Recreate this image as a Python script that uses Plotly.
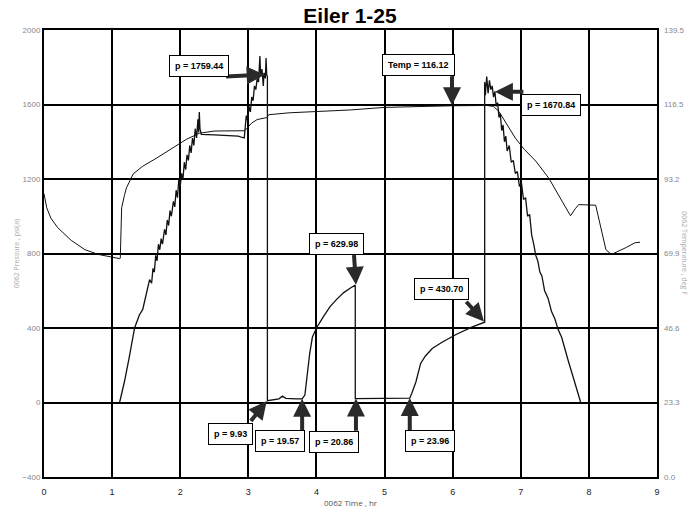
import plotly.graph_objects as go

# pressure trace, psi(a)
p_time = [1.11, 1.18, 1.25, 1.33, 1.40, 1.45, 1.50, 1.55, 1.58, 1.60, 1.62, 1.64, 1.66, 1.68, 1.70,
          1.72, 1.74, 1.77, 1.79, 1.81, 1.83, 1.85, 1.87, 1.90, 1.92, 1.94, 1.96, 1.98, 2.00, 2.02,
          2.04, 2.06, 2.08, 2.10, 2.12, 2.14, 2.16, 2.18, 2.20, 2.22, 2.24, 2.26, 2.27, 2.28, 2.29,
          2.31, 2.50, 2.70, 2.85, 2.94, 2.95, 2.97, 2.99, 3.01, 3.03, 3.05, 3.07, 3.09, 3.11, 3.13,
          3.15, 3.16, 3.17, 3.18, 3.20, 3.22, 3.23, 3.25, 3.26, 3.27, 3.28, 3.28, 3.35, 3.45, 3.50,
          3.55, 3.70, 3.79, 3.83, 3.86, 3.90, 3.94, 4.00, 4.10, 4.20, 4.30, 4.40, 4.50, 4.57, 4.57,
          4.80, 5.00, 5.20, 5.37, 5.40, 5.46, 5.53, 5.60, 5.70, 5.85, 6.05, 6.28, 6.47, 6.47, 6.48,
          6.50, 6.52, 6.54, 6.56, 6.58, 6.60, 6.62, 6.64, 6.66, 6.68, 6.70, 6.72, 6.74, 6.76, 6.78,
          6.80, 6.83, 6.86, 6.89, 6.92, 6.95, 6.98, 7.01, 7.04, 7.07, 7.10, 7.13, 7.16, 7.19, 7.22,
          7.25, 7.28, 7.31, 7.35, 7.40, 7.45, 7.50, 7.55, 7.60, 7.65, 7.70, 7.75, 7.80, 7.85, 7.88]
pressure = [0, 110, 240, 400, 470, 500, 580, 660, 640, 720, 700, 790, 760, 850, 820,
            880, 850, 930, 900, 980, 950, 1030, 1000, 1080, 1050, 1140, 1100, 1200, 1160, 1230,
            1200, 1290, 1250, 1330, 1300, 1380, 1340, 1420, 1380, 1470, 1420, 1520, 1450, 1560, 1470,
            1440, 1437, 1433, 1430, 1420, 1480, 1540, 1510, 1590, 1560, 1640, 1620, 1700, 1680, 1740,
            1720, 1780, 1860, 1760, 1790, 1700, 1770, 1740, 1850, 1760, 1750, 10, 14, 20, 34,
            22, 20, 20, 40, 140, 260, 350, 400, 460, 515, 555, 590, 615, 630, 21,
            22, 23, 23, 24, 50, 110, 210, 250, 290, 325, 365, 405, 431, 1720, 1650,
            1750, 1660, 1730, 1680, 1700, 1640, 1670, 1590, 1610, 1530, 1550, 1460, 1490, 1400, 1430,
            1350, 1380, 1290, 1300, 1230, 1240, 1160, 1180, 1090, 1100, 1000, 1010, 900, 850, 790,
            760, 700, 680, 600, 560, 490, 450, 390, 350, 280, 220, 160, 100, 40, 0]

# temperature trace, deg F (right axis)
t_time = [0.00, 0.04, 0.10, 0.20, 0.40, 0.60, 0.80, 0.95, 1.11, 1.12, 1.14, 1.18, 1.21, 1.31, 1.45,
          1.65, 1.89, 2.09, 2.28, 2.50, 2.94, 2.96, 3.05, 3.13, 3.27, 3.30, 3.60, 4.50, 5.00, 5.50,
          6.00, 6.50, 6.60, 6.68, 6.80, 6.92, 7.05, 7.22, 7.41, 7.50, 7.60, 7.73, 7.80, 7.85, 8.10,
          8.19, 8.25, 8.33, 8.46, 8.55, 8.68, 8.75]
temperature = [88.6, 84.2, 81.0, 78.0, 74.0, 71.1, 69.6, 68.9, 68.3, 68.4, 84.2, 88.0, 90.4, 94.8, 97.2,
               99.7, 102.8, 105.6, 107.5, 108.2, 108.3, 108.6, 110.7, 111.8, 112.4, 113.3, 113.9, 114.8, 115.6, 115.9,
               116.1, 116.2, 115.9, 114.3, 110.1, 106.0, 102.5, 98.8, 93.5, 90.3, 86.4, 81.7, 83.9, 85.2, 85.0,
               76.1, 71.1, 69.6, 70.8, 71.8, 73.3, 73.4]

left_ticks = [-400, 0, 400, 800, 1200, 1600, 2000]
right_ticks = [0.0, 23.3, 46.6, 69.9, 93.2, 116.5, 139.8]
right_labels = ["0.0", "23.3", "46.6", "69.9", "93.2", "116.5", "139.5"]

# callouts: label, box position, arrow start, arrow tip (time, psi)
callouts = [
    ("p = 1759.44", (2.27, 1805), (2.65, 1750), (3.24, 1760)),
    ("Temp = 116.12", (5.50, 1810), (5.99, 1760), (5.99, 1596)),
    ("p = 1670.84", (7.44, 1600), (7.06, 1668), (6.62, 1668)),
    ("p = 629.98", (4.29, 853), (4.55, 800), (4.58, 632)),
    ("p = 430.70", (5.84, 608), (6.18, 549), (6.46, 435)),
    ("p = 9.93", (2.74, -171), (3.02, -107), (3.27, 8)),
    ("p = 19.57", (3.47, -208), (3.79, -160), (3.79, 20)),
    ("p = 20.86", (4.26, -213), (4.58, -160), (4.58, 21)),
    ("p = 23.96", (5.67, -208), (5.37, -160), (5.37, 24)),
]

fig = go.Figure()
fig.add_trace(go.Scatter(x=p_time, y=pressure, mode="lines",
                         line=dict(color="#111", width=1.3), name="Pressure"))
fig.add_trace(go.Scatter(x=t_time, y=temperature, mode="lines", yaxis="y2",
                         line=dict(color="#111", width=1), name="Temperature"))

font_main = "Liberation Sans, Arial"
annots = []
for label, box, a0, a1 in callouts:
    annots.append(dict(x=a1[0], y=a1[1], ax=a0[0], ay=a0[1], xref="x", yref="y",
                       axref="x", ayref="y", text="", showarrow=True,
                       arrowhead=2, arrowsize=0.9, arrowwidth=4, arrowcolor="#2a2a2a"))
    annots.append(dict(x=box[0], y=box[1], xref="x", yref="y", text="<b>" + label + "</b>",
                       showarrow=False, bgcolor="white", bordercolor="black", borderwidth=1,
                       borderpad=5, font=dict(family=font_main, size=9, color="black")))

annots.append(dict(x=0.5, y=-0.058, xref="paper", yref="paper", text="0062 Time , hr",
                   showarrow=False, font=dict(size=8, color="#555"), yanchor="middle"))
annots.append(dict(x=-0.055, y=0.5, xref="paper", yref="paper", text="0062 Pressure , psi(a)",
                   showarrow=False, textangle=-90, font=dict(size=7, color="#aaa")))
annots.append(dict(x=1.055, y=0.5, xref="paper", yref="paper", text="0062 Temperature , deg F",
                   showarrow=False, textangle=90, font=dict(size=7, color="#aaa")))

fig.update_layout(
    width=700, height=510,
    margin=dict(l=44, r=43, t=30, b=33),
    paper_bgcolor="white", plot_bgcolor="white",
    showlegend=False,
    title=dict(text="<b>Eiler 1-25</b>", x=0.5, xanchor="center", y=0.969, yanchor="middle",
               font=dict(family=font_main, size=21, color="black")),
    xaxis=dict(range=[0, 9], dtick=1, showgrid=True, gridcolor="black", gridwidth=2,
               showline=True, linecolor="black", linewidth=2, mirror=True, zeroline=False,
               ticks="", ticklabelstandoff=5, tickfont=dict(size=9, color="#222", family=font_main)),
    yaxis=dict(range=[-400, 2000], tickvals=left_ticks, showgrid=True, gridcolor="black",
               gridwidth=2, showline=True, linecolor="black", linewidth=2, mirror=True,
               zeroline=False, ticks="", tickfont=dict(size=8, color="#888", family=font_main)),
    yaxis2=dict(range=[0, 139.8], overlaying="y", side="right", tickvals=right_ticks,
                ticktext=right_labels, showgrid=False, zeroline=False, ticks="",
                ticklabelstandoff=6, tickfont=dict(size=8, color="#888", family=font_main)),
    annotations=annots,
)

# drop the page's default body margin so the figure sits at the window's corner
fig.write_html("out.html", config={"displayModeBar": False},
               post_script="document.body.style.margin='0';")
